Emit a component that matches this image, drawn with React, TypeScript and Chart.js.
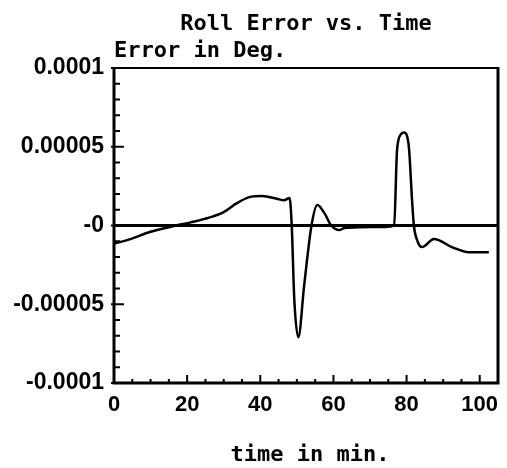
import React, { useEffect, useRef } from "react";
import { Chart, registerables } from "chart.js";

Chart.register(...registerables);

const chartTitle = "Roll Error vs. Time";
const yAxisTitle = "Error in Deg.";
const xAxisTitle = "time in min.";

const timeMin = [
  0, 4, 10, 17, 21, 26, 30, 33.5, 37, 40.5, 44.5, 46.5, 48, 48.6, 49.3, 50.4, 52, 54, 55.6,
  57.5, 59.4, 61.6, 63, 66, 70, 74, 76.6, 77.4, 78.5, 79.3, 80.1, 80.7, 81.5, 82, 83, 84.2,
  87.5, 92.4, 97, 102.5,
];
const rollError = [
  -1.15e-5, -0.9e-5, -0.4e-5, 0, 0.2e-5, 0.5e-5, 0.85e-5, 1.4e-5, 1.8e-5, 1.87e-5, 1.7e-5,
  1.6e-5, 1.75e-5, 0, -4.7e-5, -7.1e-5, -3.8e-5, 0, 1.3e-5, 0.8e-5, 0, -0.29e-5, -0.16e-5,
  -0.12e-5, -0.1e-5, -0.1e-5, 0, 4.8e-5, 5.8e-5, 5.9e-5, 5.7e-5, 4.8e-5, 1.6e-5, 0, -1.0e-5,
  -1.37e-5, -0.86e-5, -1.37e-5, -1.7e-5, -1.7e-5,
];
const zeroLineTime = [0, 105];
const zeroLineValue = [0, 0];

const yTickValues = [1e-4, 5e-5, 0, -5e-5, -1e-4];
const yTickLabels = ["0.0001", "0.00005", "-0", "-0.00005", "-0.0001"];
const xTickValues = [0, 20, 40, 60, 80, 100];
const xTickLabels = ["0", "20", "40", "60", "80", "100"];

const X_MIN = 0;
const X_MAX = 105;
const Y_MIN = -1e-4;
const Y_MAX = 1e-4;

const MONO = 'bold 22px "DejaVu Sans Mono", monospace';

const framePlugin = {
  id: "frame",
  afterDraw(chart: any) {
    const { ctx, chartArea } = chart;
    const { left, right, top, bottom } = chartArea;
    const xs = chart.scales.x;
    const ys = chart.scales.y;
    ctx.save();
    ctx.strokeStyle = "#000";
    ctx.fillStyle = "#000";
    ctx.lineCap = "butt";
    // frame
    ctx.lineWidth = 2;
    ctx.beginPath();
    ctx.moveTo(left, top);
    ctx.lineTo(right, top);
    ctx.stroke();
    ctx.lineWidth = 3;
    ctx.beginPath();
    ctx.moveTo(left, top - 1);
    ctx.lineTo(left, bottom);
    ctx.lineTo(right, bottom);
    ctx.lineTo(right, top - 1);
    ctx.stroke();
    // y ticks (inward)
    ctx.lineWidth = 2;
    ys.ticks.forEach((t: any) => {
      const k = Math.round(t.value / 1e-5);
      const py = ys.getPixelForValue(t.value);
      const major = k % 5 === 0;
      ctx.beginPath();
      ctx.moveTo(left - (major ? 3 : 0), py);
      ctx.lineTo(left + (major ? 10 : 6), py);
      ctx.stroke();
    });
    // x ticks (inward)
    xs.ticks.forEach((t: any) => {
      if (t.value > X_MAX - 1) return;
      const k = Math.round(t.value / 5);
      const px = xs.getPixelForValue(t.value);
      const major = k % 4 === 0;
      ctx.beginPath();
      ctx.moveTo(px, bottom);
      ctx.lineTo(px, bottom - (major ? 8 : 4));
      ctx.stroke();
    });
    // texts
    ctx.font = MONO;
    ctx.textBaseline = "alphabetic";
    ctx.textAlign = "center";
    ctx.fillText(chartTitle, (left + right) / 2, 30);
    ctx.textAlign = "left";
    ctx.fillText(yAxisTitle, left, 57);
    ctx.textAlign = "center";
    ctx.fillText(xAxisTitle, (left + right) / 2 + 4, 461);
    ctx.restore();
  },
};

export default function App() {
  const canvasRef = useRef<HTMLCanvasElement | null>(null);

  useEffect(() => {
    if (!canvasRef.current) return;
    const chart = new Chart(canvasRef.current, {
      type: "line",
      data: {
        datasets: [
          {
            data: zeroLineTime.map((t, i) => ({ x: t, y: zeroLineValue[i] })),
            borderColor: "#000",
            borderWidth: 3,
            pointRadius: 0,
            tension: 0,
          },
          {
            data: timeMin.map((t, i) => ({ x: t, y: rollError[i] })),
            borderColor: "#000",
            borderWidth: 2.5,
            pointRadius: 0,
            cubicInterpolationMode: "monotone",
          },
        ],
      },
      options: {
        responsive: false,
        animation: false,
        layout: { padding: { left: 0, right: 7, top: 68, bottom: 0 } },
        plugins: {
          legend: { display: false },
          title: { display: false },
          tooltip: { enabled: false },
        },
        scales: {
          x: {
            type: "linear",
            min: X_MIN,
            max: X_MAX,
            grid: { display: false, drawTicks: false },
            border: { display: false },
            afterFit: (s: any) => {
              s.height = 85;
            },
            ticks: {
              stepSize: 5,
              autoSkip: false,
              maxRotation: 0,
              padding: 9,
              color: "#000",
              font: { family: '"Liberation Sans", Arial, sans-serif', size: 22, weight: "bold" },
              callback: (v: any) => {
                const i = xTickValues.findIndex((tv) => Math.abs(tv - Number(v)) < 1e-6);
                return i >= 0 ? xTickLabels[i] : "";
              },
            },
          },
          y: {
            type: "linear",
            min: Y_MIN,
            max: Y_MAX,
            grid: { display: false, drawTicks: false },
            border: { display: false },
            afterFit: (s: any) => {
              s.width = 114;
            },
            ticks: {
              stepSize: 1e-5,
              autoSkip: false,
              padding: 10,
              color: "#000",
              font: { family: '"Liberation Sans", Arial, sans-serif', size: 23, weight: "bold" },
              callback: (v: any) => {
                const i = yTickValues.findIndex((tv) => Math.abs(tv - Number(v)) < 1e-9);
                return i >= 0 ? yTickLabels[i] : "";
              },
            },
          },
        },
      },
      plugins: [framePlugin],
    } as any);
    return () => chart.destroy();
  }, []);

  return (
    <div style={{ position: "fixed", left: 0, top: 0, width: 507, height: 468, background: "#fff" }}>
      <canvas ref={canvasRef} width={507} height={468} />
    </div>
  );
}
